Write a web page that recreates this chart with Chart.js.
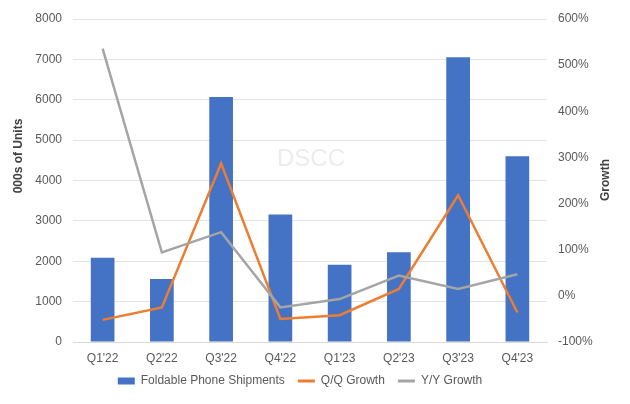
<!DOCTYPE html>
<html>
<head>
<meta charset="utf-8">
<script src="https://cdn.jsdelivr.net/npm/chart.js@4.4.0/dist/chart.umd.min.js"></script>
<style>
  html, body { margin: 0; padding: 0; background: #ffffff; }
  #wrap { width: 630px; height: 404px; }
</style>
</head>
<body>
<div id="wrap"><canvas id="grafico"></canvas></div>
<script>
// dados
const trimestres = ["Q1'22", "Q2'22", "Q3'22", "Q4'22", "Q1'23", "Q2'23", "Q3'23", "Q4'23"];
const envios = [2085, 1560, 6070, 3160, 1915, 2220, 7055, 4600];
const crescimentoQQ = [-52, -25, 287, -50, -42, 15, 218, -36];
const crescimentoYY = [536, 94, 138, -25, -7, 44, 15, 47];

const corTexto = "#595959";
const fonte = "'Liberation Sans', Arial, sans-serif";

// marca d'água DSCC bem clarinha
const marcaDagua = {
    id: "marcaDagua",
    beforeDatasetsDraw(chart) {
        const ctx = chart.ctx;
        ctx.save();
        ctx.fillStyle = "#ececec";
        ctx.font = "24px " + fonte;
        ctx.textAlign = "center";
        ctx.textBaseline = "middle";
        ctx.fillText("DSCC", 311, 159);
        ctx.restore();
    }
};

// títulos dos eixos (os dois lidos de baixo pra cima, como no Excel)
const titulosEixos = {
    id: "titulosEixos",
    afterDraw(chart) {
        const ctx = chart.ctx;
        ctx.save();
        ctx.fillStyle = "#404040";
        ctx.font = "bold 12px " + fonte;
        ctx.textAlign = "center";
        ctx.textBaseline = "middle";
        ctx.translate(19, 156);
        ctx.rotate(-Math.PI / 2);
        ctx.fillText("000s of Units", 0, 0);
        ctx.restore();

        ctx.save();
        ctx.fillStyle = "#404040";
        ctx.font = "bold 12px " + fonte;
        ctx.textAlign = "center";
        ctx.textBaseline = "middle";
        ctx.translate(606, 180);
        ctx.rotate(-Math.PI / 2);
        ctx.fillText("Growth", 0, 0);
        ctx.restore();
    }
};

// ajuste fino da posição da legenda
const ajusteLegenda = {
    id: "ajusteLegenda",
    afterLayout(chart) {
        const leg = chart.legend;
        leg.top -= 3;
        leg.bottom -= 3;
        leg.left -= 15;
        leg.right -= 15;
    }
};

const ctx = document.getElementById("grafico");
const graficoBarra = new Chart(ctx, {
    type: "bar",
    data: {
        labels: trimestres,
        datasets: [{
            type: "bar",
            label: "Foldable Phone Shipments",
            data: envios,
            yAxisID: "y",
            backgroundColor: "#4472C4",
            borderWidth: 0,
            pointStyle: "rect",
            barPercentage: 0.4,
            categoryPercentage: 1,
            order: 2
        }, {
            type: "line",
            label: "Q/Q Growth",
            data: crescimentoQQ,
            yAxisID: "y1",
            borderColor: "#ED7D31",
            backgroundColor: "#ED7D31",
            borderWidth: 2.5,
            pointRadius: 0,
            pointHoverRadius: 0,
            pointBorderWidth: 3,
            pointStyle: "line",
            tension: 0,
            order: 1
        }, {
            type: "line",
            label: "Y/Y Growth",
            data: crescimentoYY,
            yAxisID: "y1",
            borderColor: "#A5A5A5",
            backgroundColor: "#A5A5A5",
            borderWidth: 2.5,
            pointRadius: 0,
            pointHoverRadius: 0,
            pointBorderWidth: 3,
            pointStyle: "line",
            tension: 0,
            order: 0
        }]
    },
    options: {
        responsive: true,
        maintainAspectRatio: false,
        animation: false,
        layout: {
            padding: { top: 19, bottom: 4, left: 0, right: 0 }
        },
        plugins: {
            legend: {
                position: "bottom",
                reverse: true,
                labels: {
                    usePointStyle: true,
                    pointStyleWidth: 17,
                    boxHeight: 7,
                    padding: 13,
                    color: corTexto,
                    font: { family: fonte, size: 12 }
                }
            },
            tooltip: { enabled: false },
            title: { display: false }
        },
        scales: {
            x: {
                grid: { display: false, drawTicks: false },
                border: { color: "#D9D9D9" },
                ticks: {
                    color: corTexto,
                    font: { family: fonte, size: 12 },
                    padding: 9,
                    maxRotation: 0
                },
                afterFit(scale) { scale.height = 23; }
            },
            y: {
                position: "left",
                min: 0,
                max: 8000,
                ticks: {
                    stepSize: 1000,
                    color: corTexto,
                    font: { family: fonte, size: 12 },
                    padding: 11,
                    callback: v => String(v)
                },
                grid: { color: "#E3E3E3", drawTicks: false },
                border: { display: false },
                afterFit(scale) { scale.width = 73; }
            },
            y1: {
                position: "right",
                min: -100,
                max: 600,
                ticks: {
                    stepSize: 100,
                    color: corTexto,
                    font: { family: fonte, size: 12 },
                    padding: 11,
                    callback: v => v + "%"
                },
                grid: { display: false, drawTicks: false },
                border: { display: false },
                afterFit(scale) { scale.width = 83; }
            }
        }
    },
    plugins: [marcaDagua, titulosEixos, ajusteLegenda]
});
</script>
</body>
</html>
